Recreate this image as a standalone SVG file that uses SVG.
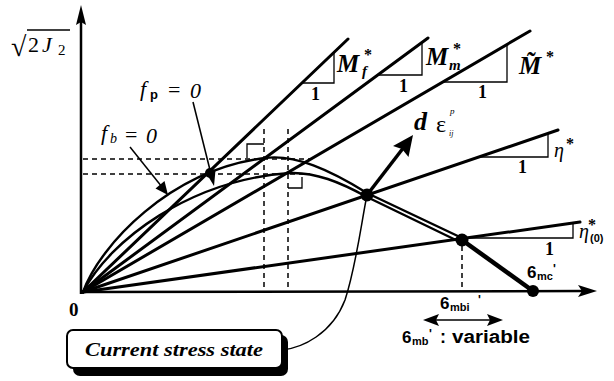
<svg xmlns="http://www.w3.org/2000/svg" width="614" height="381" viewBox="0 0 614 381">
<style>
.ax{stroke:#000;stroke-width:2.5;fill:none}
.ray{stroke:#000;stroke-width:3;fill:none;stroke-linecap:round}
.cur{stroke:#000;stroke-width:2.4;fill:none}
.tri{stroke:#000;stroke-width:1.3;fill:none}
.dash{stroke:#000;stroke-width:1.5;fill:none;stroke-dasharray:5,4}
.thin{stroke:#000;stroke-width:1.5;fill:none}
.hd{fill:#000}
.ser{font-family:"Liberation Serif","Times New Roman",serif;fill:#000}
.san{font-family:"Liberation Sans",Arial,sans-serif;fill:#000;font-weight:bold}
.bi{font-weight:bold;font-style:italic}
.it{font-style:italic}
</style>
<g id="axes">
<line class="ax" x1="81" y1="294" x2="81" y2="20"/>
<path class="hd" d="M81,5 L86,25 L81,22 L76,25 Z"/>
<line class="ax" x1="80" y1="292" x2="585" y2="291"/>
<path class="hd" d="M597,291 L578,297 L582,291 L578,285 Z"/>
</g>
<g id="rays">
<line class="ray" x1="83" y1="292" x2="348" y2="39"/>
<line class="ray" x1="83" y1="292" x2="428" y2="38"/>
<line class="ray" x1="83" y1="292" x2="530" y2="31"/>
<line class="ray" x1="83" y1="292" x2="558" y2="130"/>
<line class="ray" x1="83" y1="292" x2="580" y2="222"/>
</g>
<g id="slope-triangles">
<path class="tri" d="M303,83 L334,83 L334,53"/>
<path class="tri" d="M378,75 L422,75 L422,43"/>
<path class="tri" d="M442,82 L507,82 L507,45"/>
<path class="tri" d="M479,157 L548,157 L548,134"/>
<path class="tri" d="M466,238 L573,238 L573,223"/>
</g>
<g id="dashed">
<line class="dash" x1="83" y1="159" x2="310" y2="159"/>
<line class="dash" x1="83" y1="174" x2="310" y2="174"/>
<line class="dash" x1="264" y1="129" x2="264" y2="291"/>
<line class="dash" x1="288" y1="129" x2="288" y2="291"/>
<line class="dash" x1="462" y1="246" x2="462" y2="291"/>
<path class="tri" d="M247,158 L247,144 L264,144"/>
<path class="tri" d="M288,188 L302,188 L302,177"/>
</g>
<g id="yield-curves">
<path id="fb" class="cur" d="M83,292 C100,245 170,170 265,158 C295,154 330,170 367,193 L462,238"/>
<path id="fp" class="cur" d="M83,292 C110,240 190,180 290,173 C315,172 340,182 367,197 L462,243"/>
<line x1="462" y1="240" x2="533" y2="291" stroke="#000" stroke-width="4.5"/>
</g>
<g id="points">
<circle cx="210" cy="173" r="5" fill="#000"/>
<circle cx="367" cy="195" r="6.5" fill="#000"/>
<circle cx="462" cy="240" r="6.5" fill="#000"/>
<circle cx="533" cy="291" r="6" fill="#000"/>
</g>
<g id="connectors">
<line x1="367" y1="195" x2="404" y2="147" stroke="#000" stroke-width="3.5"/>
<path class="hd" d="M413,135 L408.5,157 L402,149 L393,146 Z"/>
<line class="thin" x1="130" y1="147" x2="162" y2="187"/>
<path class="hd" d="M168,195 L155.5,188.5 L164.5,181 Z"/>
<line class="thin" x1="193" y1="102" x2="211" y2="174"/>
<path class="hd" d="M214,186 L205.5,172 L215.5,170 Z"/>
<path class="thin" d="M282,350 C302,348 332,334 345,300 C355,270 360,232 366,200"/>
<line class="thin" x1="436" y1="320" x2="490" y2="320"/>
<path class="hd" d="M423,320 L439,314 L436,320 L439,326 Z"/>
<path class="hd" d="M503,320 L487,314 L490,320 L487,326 Z"/>
</g>
<g id="current-stress-state">
<rect x="73" y="335" width="215" height="41" rx="7" fill="#000"/>
<rect x="67" y="330" width="215" height="38" rx="6" fill="#fff" stroke="#000" stroke-width="2"/>
<text class="ser bi" x="85" y="356" font-size="18" textLength="178" lengthAdjust="spacingAndGlyphs">Current stress state</text>
</g>
<g id="labels">
<text class="ser" x="11" y="56" font-size="28">√</text>
<line x1="27" y1="30" x2="70" y2="30" stroke="#000" stroke-width="1.5"/>
<text class="ser" x="28" y="52" font-size="22">2</text>
<text class="ser it" x="42" y="52" font-size="22">J</text>
<text class="ser" x="58" y="55" font-size="15">2</text>
<text class="ser" x="69" y="316" font-size="19" font-weight="bold">0</text>
<text class="ser it" x="140" y="96" font-size="22">f</text>
<text class="san" x="150" y="99" font-size="13" font-weight="normal">p</text>
<text class="ser" x="168" y="97" font-size="22">=</text>
<text class="ser it" x="190" y="98" font-size="22">0</text>
<text class="ser it" x="101" y="140" font-size="22">f</text>
<text class="ser it" x="110" y="143" font-size="14">b</text>
<text class="ser" x="125" y="142" font-size="22">=</text>
<text class="ser it" x="146" y="143" font-size="22">0</text>
<text class="ser bi" x="337" y="72" font-size="25">M</text>
<text class="ser bi" x="362" y="76" font-size="15">f</text>
<text class="ser" x="364" y="60" font-size="16" font-weight="bold">*</text>
<text class="ser bi" x="426" y="65" font-size="25">M</text>
<text class="ser bi" x="449" y="70" font-size="15">m</text>
<text class="ser" x="453" y="54" font-size="16" font-weight="bold">*</text>
<text class="ser bi" x="519" y="74" font-size="25">M̃</text>
<text class="ser" x="546" y="62" font-size="16" font-weight="bold">*</text>
<text class="ser" x="311" y="100" font-size="18" font-weight="bold">1</text>
<text class="ser" x="399" y="92" font-size="18" font-weight="bold">1</text>
<text class="ser" x="478" y="98" font-size="18" font-weight="bold">1</text>
<text class="ser" x="518" y="173" font-size="18" font-weight="bold">1</text>
<text class="ser" x="545" y="255" font-size="18" font-weight="bold">1</text>
<text class="ser it" x="554" y="157" font-size="20">η</text>
<text class="ser" x="566" y="149" font-size="16" font-weight="bold">*</text>
<text class="ser it" x="579" y="238" font-size="20">η</text>
<text class="san" x="590" y="242" font-size="11">(0)</text>
<text class="ser" x="588" y="230" font-size="16" font-weight="bold">*</text>
<text class="ser it" x="414" y="130" font-size="26" font-weight="bold">d</text>
<text class="ser" x="436" y="132" font-size="24">ε</text>
<text class="ser it" x="449" y="136" font-size="8">ij</text>
<text class="ser it" x="450" y="114" font-size="9">p</text>
<text class="san" x="527" y="278" font-size="17" font-weight="normal">6</text>
<text class="san" x="537" y="280" font-size="11">mc</text>
<text class="san" x="553" y="273" font-size="12">'</text>
<text class="san" x="440" y="309" font-size="17" font-weight="normal">6</text>
<text class="san" x="450" y="311" font-size="11">mbi</text>
<text class="san" x="478" y="304" font-size="12">'</text>
<text class="san" x="402" y="343" font-size="17" font-weight="normal">6</text>
<text class="san" x="412" y="345" font-size="11">mb</text>
<text class="san" x="429" y="338" font-size="12">'</text>
<text class="san" x="440" y="343" font-size="18">:</text>
<text class="san" x="452" y="343" font-size="18" textLength="78" lengthAdjust="spacingAndGlyphs">variable</text>
</g>
</svg>
